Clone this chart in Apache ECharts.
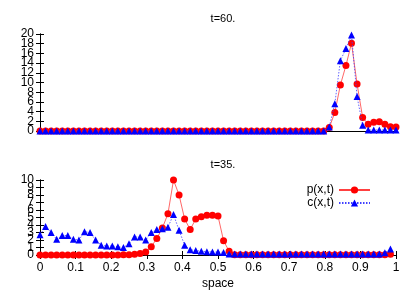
<!DOCTYPE html>
<html><head><meta charset="utf-8">
<script src="https://cdn.jsdelivr.net/npm/echarts@6/dist/echarts.min.js"></script>
<style>html,body{margin:0;padding:0;background:#fff}#c{width:415px;height:291px}</style>
</head><body><div id="c"></div>
<script>
var xTop = [0,0.015625,0.03125,0.046875,0.0625,0.078125,0.09375,0.109375,0.125,0.140625,0.15625,0.171875,0.1875,0.203125,0.21875,0.234375,0.25,0.265625,0.28125,0.296875,0.3125,0.328125,0.34375,0.359375,0.375,0.390625,0.40625,0.421875,0.4375,0.453125,0.46875,0.484375,0.5,0.515625,0.53125,0.546875,0.5625,0.578125,0.59375,0.609375,0.625,0.640625,0.65625,0.671875,0.6875,0.703125,0.71875,0.734375,0.75,0.765625,0.78125,0.796875,0.8125,0.828125,0.84375,0.859375,0.875,0.890625,0.90625,0.921875,0.9375,0.953125,0.96875,0.984375,1];
var topP = [0,0,0,0,0,0,0,0,0,0,0,0,0,0,0,0,0,0,0,0,0,0,0,0,0,0,0,0,0,0,0,0,0,0,0,0,0,0,0,0,0,0,0,0,0,0,0,0,0,0,0,0,0.7,3.8,9.5,13.5,18.1,9.7,2.8,1.4,1.8,1.9,1.4,0.9,0.8];
var topC = [0,0,0,0,0,0,0,0,0,0,0,0,0,0,0,0,0,0,0,0,0,0,0,0,0,0,0,0,0,0,0,0,0,0,0,0,0,0,0,0,0,0,0,0,0,0,0,0,0,0,0,0,0.8,5.6,14.5,17.0,19.8,7.1,1.2,0.2,0.2,0.2,0.2,0.2,0.2];
var xBot = xTop.slice(0, 64);
var botP = [0,0,0,0,0,0,0,0,0,0,0,0,0,0,0,0.05,0.05,0.1,0.2,0.4,1.1,2.2,3.6,5.5,10,8.0,4.8,3.4,4.8,5.1,5.3,5.3,5.2,1.9,0.5,0.05,0.05,0.05,0.05,0.05,0.05,0.05,0.05,0.05,0.05,0.05,0.05,0.05,0.05,0.05,0.05,0.05,0.05,0.05,0.05,0.05,0.05,0.05,0.05,0.05,0.05,0.05,0.05,0.1];
var botC = [2.7,3.8,3.0,2.1,2.6,2.6,2.1,2.0,3.1,3.0,2.0,1.3,1.2,1.2,1.1,1.0,1.5,2.4,2.4,2.0,3.0,3.4,3.5,3.7,5.4,3.3,1.3,0.7,0.6,0.5,0.45,0.4,0.4,0.35,0.15,0.15,0.15,0.15,0.15,0.15,0.15,0.15,0.15,0.15,0.15,0.15,0.15,0.15,0.15,0.15,0.15,0.15,0.15,0.15,0.15,0.15,0.15,0.15,0.15,0.15,0.15,0.15,0.3,0.8];
var titles = ['t=60.', 't=35.'];
var seriesNames = ['p(x,t)', 'c(x,t)'];

function pairs(xs, ys){ return ys.map(function(v,i){ return [xs[i], v]; }); }

var FONT = 'Liberation Sans';
var lab = {fontFamily: FONT, fontSize: 12, color: '#000'};
var axLine = {show: true, lineStyle: {color: '#000', width: 1}};
var tick = {show: true, inside: true, length: 4, lineStyle: {color: '#000'}};
var noLine = {show: false};
// label set A shows every other tick (k even), set B the rest
function ylab(step, parity){
  return Object.assign({margin: 6, showMinLabel: true, showMaxLabel: true, hideOverlap: false,
    formatter: function(v){ var k = Math.round(v/step); return (k % 2 === parity) ? String(Math.round(v)) : ''; }}, lab);
}

var chart = echarts.init(document.getElementById('c'), null, {renderer: 'canvas'});
chart.setOption({
  animation: false,
  backgroundColor: '#fff',
  title: [
    {text: titles[0], left: 218, top: 8, textAlign: 'center', textStyle: {fontFamily: FONT, fontSize: 11, fontWeight: 'normal', color: '#000'}},
    {text: titles[1], left: 218, top: 154, textAlign: 'center', textStyle: {fontFamily: FONT, fontSize: 11, fontWeight: 'normal', color: '#000'}}
  ],
  legend: {
    data: seriesNames, orient: 'vertical', align: 'right', right: 44, top: 184,
    itemWidth: 31, itemHeight: 9, itemGap: 1, padding: 0,
    textStyle: {fontFamily: FONT, fontSize: 12, color: '#000', padding: [0, 0, 0, 0]}
  },
  grid: [
    {left: 40, top: 34, width: 356, height: 97, containLabel: false},
    {left: 40, top: 180, width: 356, height: 76, containLabel: false}
  ],
  xAxis: [
    {type: 'value', gridIndex: 0, min: 0, max: 1, interval: 0.1, position: 'bottom', axisLine: axLine, axisTick: {show: false}, axisLabel: {show: false}, splitLine: {show: false}},
    {type: 'value', gridIndex: 0, min: 0, max: 1, interval: 0.1, position: 'top', axisLine: axLine, axisTick: {show: false}, axisLabel: {show: false}, splitLine: {show: false}},
    {type: 'value', gridIndex: 1, min: 0, max: 1, interval: 0.1, position: 'bottom', axisLine: axLine, axisTick: tick,
     axisLabel: Object.assign({margin: 7, showMinLabel: true, showMaxLabel: true, formatter: function(v){ return String(Math.round(v*10)/10); }}, lab), splitLine: {show: false},
     name: 'space', nameLocation: 'middle', nameGap: 23, nameTextStyle: lab},
    {type: 'value', gridIndex: 1, min: 0, max: 1, interval: 0.1, position: 'top', axisLine: axLine, axisTick: tick, axisLabel: {show: false}, splitLine: {show: false}}
  ],
  yAxis: [
    {type: 'value', gridIndex: 0, min: 0, max: 20, interval: 2, position: 'left', axisLine: axLine, axisTick: tick, axisLabel: ylab(2, 0), splitLine: {show: false}},
    {type: 'value', gridIndex: 0, min: 0, max: 20, interval: 2, position: 'right', axisLine: axLine, axisTick: tick, axisLabel: {show: false}, splitLine: {show: false}},
    {type: 'value', gridIndex: 1, min: 0, max: 10, interval: 1, position: 'left', axisLine: axLine, axisTick: tick, axisLabel: ylab(1, 0), splitLine: {show: false}},
    {type: 'value', gridIndex: 1, min: 0, max: 10, interval: 1, position: 'right', axisLine: axLine, axisTick: tick, axisLabel: {show: false}, splitLine: {show: false}},
    {type: 'value', gridIndex: 0, min: 0, max: 20, interval: 2, position: 'left', offset: 0, axisLine: noLine, axisTick: {show: false}, axisLabel: ylab(2, 1), splitLine: {show: false}},
    {type: 'value', gridIndex: 1, min: 0, max: 10, interval: 1, position: 'left', offset: 0, axisLine: noLine, axisTick: {show: false}, axisLabel: ylab(1, 1), splitLine: {show: false}}
  ],
  series: [
    {name: seriesNames[0], type: 'line', xAxisIndex: 0, yAxisIndex: 0, data: pairs(xTop, topP), clip: false, symbol: 'circle', symbolSize: 7, itemStyle: {color: '#ff0000'}, lineStyle: {color: '#ff4040', width: 0.8}, z: 3},
    {name: seriesNames[1], type: 'line', xAxisIndex: 0, yAxisIndex: 0, data: pairs(xTop, topC), clip: false, symbol: 'triangle', symbolSize: 7, itemStyle: {color: '#0000ff'}, lineStyle: {color: '#4040ff', width: 0.8, type: [1.5, 1.5]}, z: 4},
    {name: seriesNames[0], type: 'line', xAxisIndex: 2, yAxisIndex: 2, data: pairs(xBot, botP), clip: false, symbol: 'circle', symbolSize: 7, itemStyle: {color: '#ff0000'}, lineStyle: {color: '#ff4040', width: 0.8}, z: 3},
    {name: seriesNames[1], type: 'line', xAxisIndex: 2, yAxisIndex: 2, data: pairs(xBot, botC), clip: false, symbol: 'triangle', symbolSize: 7, itemStyle: {color: '#0000ff'}, lineStyle: {color: '#4040ff', width: 0.8, type: [1.5, 1.5]}, z: 4}
  ]
});
</script></body></html>
